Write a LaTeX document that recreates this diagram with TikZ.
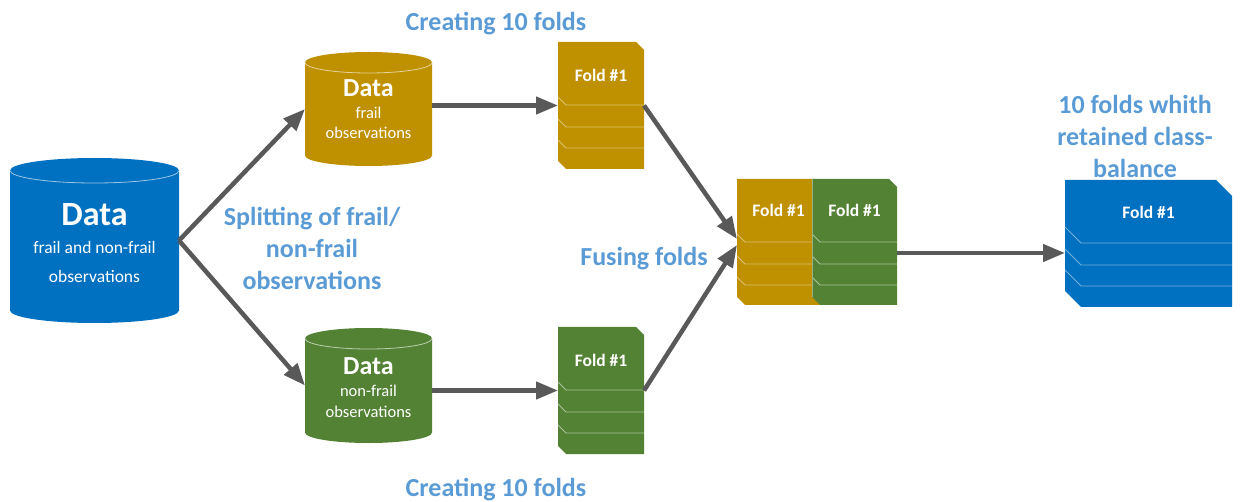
\documentclass[tikz,border=0pt]{standalone}
\usepackage{fontspec}
\setmainfont{Carlito}
\usetikzlibrary{arrows.meta,calc}

\definecolor{cgold}{HTML}{BF9000}
\definecolor{cgreen}{HTML}{548235}
\definecolor{cblue}{HTML}{0070C0}
\definecolor{clabel}{HTML}{5B9BD5}
\definecolor{carrow}{HTML}{595959}

\tikzset{
  region/.style={rectangle, inner sep=0pt, outer sep=0pt, draw=none},
  arr/.style={draw=carrow, line width=4.5pt, -{Triangle[length=22pt,width=17pt]}},
  lbl/.style={text=clabel, font=\fontsize{26}{32}\selectfont\bfseries, align=center, inner sep=0pt},
  datatitle/.style={text=white, font=\fontsize{#1}{#1}\selectfont\bfseries, inner sep=0pt},
  datatext/.style={text=white, font=\fontsize{#1}{#1}\selectfont, inner sep=0pt},
  foldtxt/.style={text=white, font=\fontsize{17.5}{18}\selectfont\bfseries, inner sep=0pt},
}

% cylinder: left, right, top, bottom, ellipse radius, colour
\newcommand\drawcyl[6]{%
  \pgfmathsetmacro\cylrx{(#2-#1)/2}%
  \fill[#6] (#1,#3+#5) -- (#1,#4-#5)
    arc[start angle=180,end angle=360,x radius=\cylrx pt,y radius=#5pt]
    -- (#2,#3+#5)
    arc[start angle=0,end angle=180,x radius=\cylrx pt,y radius=#5pt] -- cycle;
  \draw[#6!40!white, line width=0.8pt] (#1,#3+#5)
    arc[start angle=180,end angle=360,x radius=\cylrx pt,y radius=#5pt];
}

% fold sheet: node, colour, corner cut, separator colour
\newcommand\drawfold[4]{%
  \fill[#2] (#1.north west) -- ([xshift=-#3pt]#1.north east)
    -- ([yshift=-#3pt]#1.north east) -- (#1.south east)
    -- ([xshift=#3pt]#1.south west) -- ([yshift=#3pt]#1.south west) -- cycle;
  \foreach \off in {63,85,106}{%
    \draw[#4, line width=0.9pt]
      ([yshift={(#3-\off)*1pt}]#1.north west)
      -- ([xshift=#3pt,yshift={-\off*1pt}]#1.north west)
      -- ([yshift={-\off*1pt}]#1.north east);
  }%
}

\begin{document}
\begin{tikzpicture}[x=1pt,y=-1pt]
\useasboundingbox (0,0) rectangle (1244,502);

% ---- cylinders ----
\drawcyl{10}{179}{158}{323}{12.5}{cblue}
\node[region, minimum width=169pt, minimum height=165pt] (src) at (94.5,240.5) {};
\node[datatitle=34] (srcT) at (94.5,215) {Data};
\node[datatext=17.5] (srcA) at (94.5,247) {frail and non-frail};
\node[datatext=17.5] (srcB) at (94.5,276) {observations};

\drawcyl{305}{432}{52}{166}{10.5}{cgold}
\node[region, minimum width=127pt, minimum height=114pt] (fr) at (368.5,109) {};
\node[datatitle=26] (frT) at (368.5,88) {Data};
\node[datatext=16.5] (frA) at (368.5,113) {frail};
\node[datatext=16.5] (frB) at (368.5,133) {observations};

\drawcyl{305}{432}{328}{443}{10.5}{cgreen}
\node[region, minimum width=127pt, minimum height=115pt] (nf) at (368.5,385.5) {};
\node[datatitle=26] (nfT) at (368.5,366) {Data};
\node[datatext=16.5] (nfA) at (368.5,391) {non-frail};
\node[datatext=16.5] (nfB) at (368.5,412) {observations};

% ---- fold sheets ----
\node[region, minimum width=86pt, minimum height=127pt] (f1) at (601,105.5) {};
\drawfold{f1}{cgold}{8}{cgold!55!white}
\node[foldtxt] (f1t) at ([yshift=-33pt]f1.north) {Fold \#1};

\node[region, minimum width=86pt, minimum height=127pt] (f2) at (601,390.5) {};
\drawfold{f2}{cgreen}{8}{cgreen!50!white}
\node[foldtxt] (f2t) at ([yshift=-33pt]f2.north) {Fold \#1};

\node[region, minimum width=85pt, minimum height=126pt] (fa) at (779.5,242) {};
\drawfold{fa}{cgold}{8}{cgold!55!white}
\node[region, minimum width=85pt, minimum height=126pt] (fb) at (854.5,242) {};
\drawfold{fb}{cgreen}{8}{cgreen!50!white}
\draw[cgreen!60!white, line width=0.6pt] (fb.north west) -- ([yshift=8pt]fb.south west);
\node[foldtxt] (fat) at ([yshift=-31pt,xshift=-1pt]fa.north) {Fold \#1};
\node[foldtxt] (fbt) at ([yshift=-31pt]fb.north) {Fold \#1};

\node[region, minimum width=167pt, minimum height=127pt] (fc) at (1148.5,243.5) {};
\drawfold{fc}{cblue}{16}{cblue!55!white}
\node[foldtxt] (fct) at ([yshift=-32pt]fc.north) {Fold \#1};

% ---- connectors ----
\draw[arr] (src.east) -- (fr.west);
\draw[arr] (src.east) -- (nf.west);
\draw[arr] (fr.east |- f1.west) -- (f1.west);
\draw[arr] (nf.east |- f2.west) -- (f2.west);
\draw[arr] (f1.east) -- ([yshift=3pt]fa.west);
\draw[arr] (f2.east) -- ([yshift=-3pt]fa.west);
\coordinate (fuseout) at ([yshift=-11pt]fb.east);
\draw[arr] (fuseout) -- (fuseout -| fc.west);

% ---- labels ----
\node[lbl] (lblTop) at (496,24) {Creating 10 folds};
\node[lbl] (lblBot) at (496,490) {Creating 10 folds};
\node[lbl] (lblSplit) at (312,248) {Splitting of frail/\\non-frail\\observations};
\node[lbl] (lblFuse) at (644,259) {Fusing folds};
\node[lbl] (lblOut) at (1135,136) {10 folds whith\\retained class-\\balance};
\end{tikzpicture}
\end{document}
